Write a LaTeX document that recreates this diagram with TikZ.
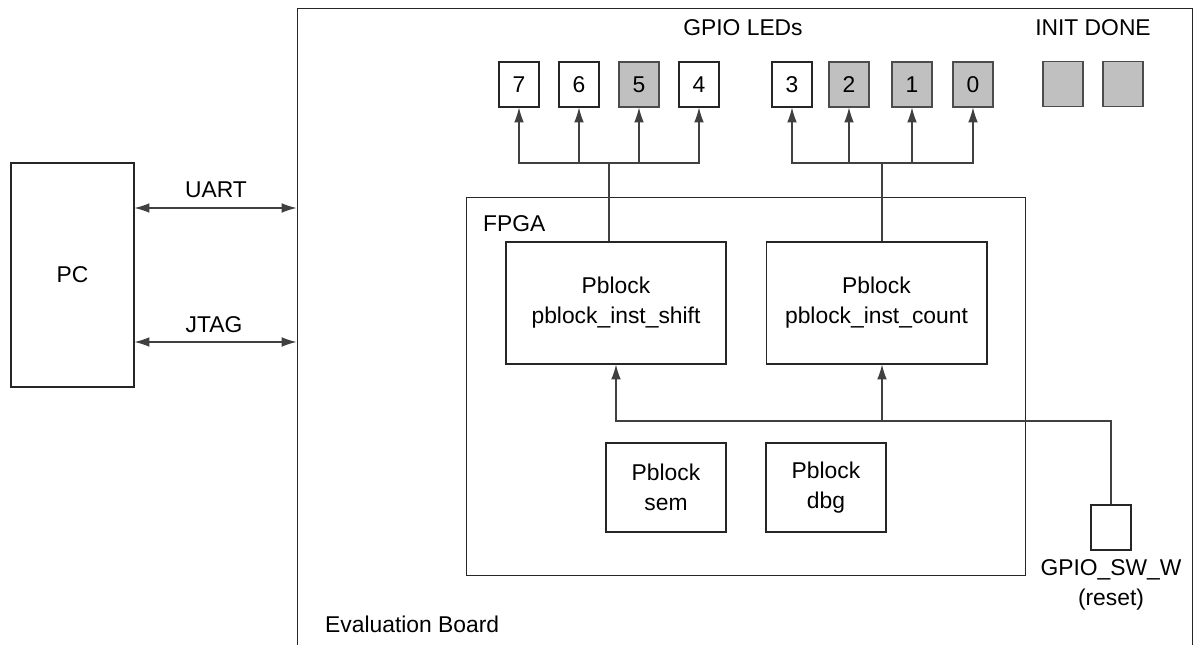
\documentclass[tikz,border=0pt]{standalone}
\usepackage{fontspec}
\setmainfont{Liberation Sans}
\usetikzlibrary{arrows.meta,positioning}
\definecolor{ledgray}{RGB}{192,192,192}
\begin{document}
\begin{tikzpicture}[x=0.02cm,y=-0.02cm,font=\fontsize{13}{17}\selectfont]
    \tikzstyle{block}=[draw=black!85,line width=0.6pt,inner sep=0pt,align=center]
    \tikzstyle{led}=[block,minimum width=0.8cm,minimum height=0.9cm]
    \tikzstyle{ledon}=[led,fill=ledgray,draw=black!70]
    \tikzstyle{wire}=[draw=black!75,line width=0.6pt]
    \tikzstyle{arr}=[wire,-{Latex[length=8.5pt,width=5.5pt]}]
    \tikzstyle{biarr}=[wire,{Latex[length=8.5pt,width=5.5pt]}-{Latex[length=8.5pt,width=5.5pt]}]
    \useasboundingbox (0,0) rectangle (1194,645);

    % PC and board
    \node (pc) at (72.5,275) [block,minimum width=2.46cm,minimum height=4.48cm] {PC};
    \node (board) at (745,336.5) [block,minimum width=17.92cm,minimum height=13.14cm] {};
    \node (boardlbl) at (319,632) [anchor=base west] {Evaluation Board};

    \draw [biarr] (pc.east |- 0,208) -- (board.west |- 0,208);
    \draw [biarr] (pc.east |- 0,342) -- (board.west |- 0,342);
    \node (uartlbl) at (216,190) {UART};
    \node (jtaglbl) at (214,325) {JTAG};

    % FPGA with pblocks
    \node (fpga) at (746,386.5) [block,minimum width=11.2cm,minimum height=7.58cm] {};
    \node (fpgalbl) at (477,232) [anchor=base west] {FPGA};
    \node (shift) at (616,303) [block,minimum width=4.4cm,minimum height=2.44cm] {Pblock\\pblock\_inst\_shift};
    \node (count) at (876.5,303) [block,minimum width=4.42cm,minimum height=2.44cm] {Pblock\\pblock\_inst\_count};
    \node (sem) at (666,487.5) [block,minimum width=2.4cm,minimum height=1.78cm] {Pblock\\sem};
    \node (dbg) at (826,487.5) [block,minimum width=2.4cm,minimum height=1.78cm] {Pblock\\dbg};

    % LEDs
    \node (ledslbl) at (743,28) {GPIO LEDs};
    \node (led7) at (519,84.5) [led] {7};
    \node (led6) at (579,84.5) [led] {6};
    \node (led5) at (639,84.5) [ledon] {5};
    \node (led4) at (699,84.5) [led] {4};
    \node (led3) at (792,84.5) [led] {3};
    \node (led2) at (849,84.5) [ledon] {2};
    \node (led1) at (912,84.5) [ledon] {1};
    \node (led0) at (973,84.5) [ledon] {0};

    \node (initlbl) at (1093,28) {INIT DONE};
    \node (init1) at (1063,84) [ledon] {};
    \node (init2) at (1123,84) [ledon] {};

    \coordinate (lbus) at (609,163);
    \coordinate (rbus) at (882,163);
    \draw [wire] (shift.north -| lbus) -- (lbus);
    \draw [wire] (count.north -| rbus) -- (rbus);
    \foreach \n in {7,6,5,4}
        \draw [arr] (lbus) -| (led\n);
    \foreach \n in {3,2,1,0}
        \draw [arr] (rbus) -| (led\n);

    % reset switch
    \node (sw) at (1111,527.5) [led] {};
    \node (swlbl) [below=1.5pt of sw,align=center] {GPIO\_SW\_W\\(reset)};
    \coordinate (rstbus) at (882,421);
    \draw [arr] (sw.north) |- (rstbus) -- (rstbus |- count.south);
    \draw [arr] (rstbus) -| (shift.south);
\end{tikzpicture}
\end{document}
